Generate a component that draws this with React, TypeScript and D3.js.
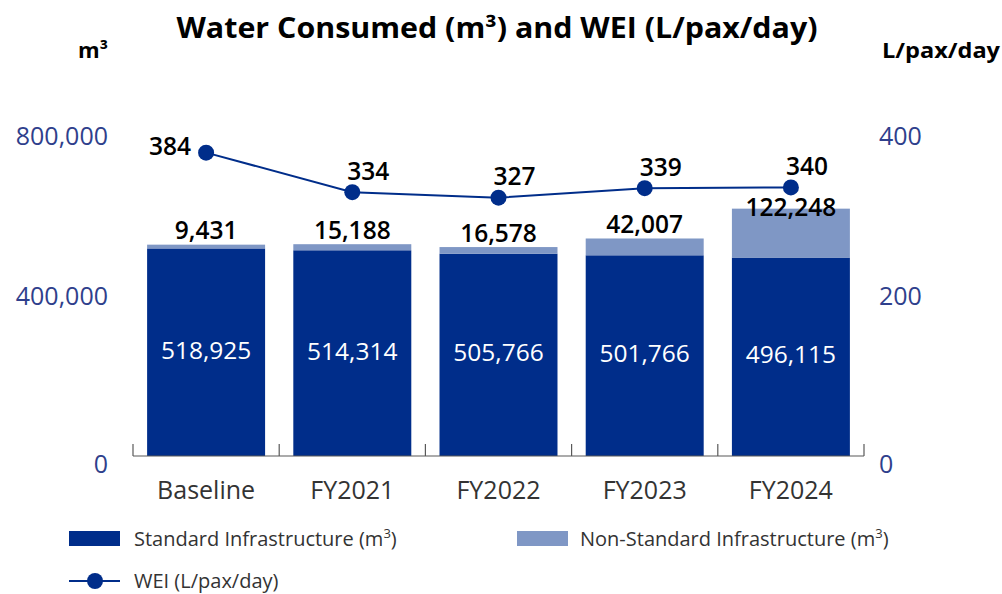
import React from "react";
import * as d3 from "d3";

const categories = ["Baseline", "FY2021", "FY2022", "FY2023", "FY2024"];
const standard = [518925, 514314, 505766, 501766, 496115];
const nonStandard = [9431, 15188, 16578, 42007, 122248];
const wei = [384, 334, 327, 339, 340];
const leftTicks = [0, 400000, 800000];
const rightTicks = [0, 200, 400];

const W = 1002;
const H = 594;
const DARK = "#002d8a";
const LIGHT = "#7f97c5";
const AXIS_TEXT = "#2f3f8c";
const FONT = "'Open Sans', 'Noto Sans', sans-serif";

export default function App() {
  const x = d3.scaleBand<string>().domain(categories).range([133, 864]).paddingInner(0).paddingOuter(0);
  const y = d3.scaleLinear().domain([0, 800000]).range([456, 136]);
  const y2 = d3.scaleLinear().domain([0, 400]).range([456, 140]);
  const bw = x.bandwidth() * 0.807;
  const fmt = d3.format(",");

  const linePath = d3
    .line<number>()
    .x((_, i) => x(categories[i])! + x.bandwidth() / 2)
    .y((d) => y2(d))(wei);

  const boundaries = categories.map((c) => x(c)!).concat([864]);

  return (
    <svg width={W} height={H} style={{ position: "absolute", left: 0, top: 0 }}>
      <rect width={W} height={H} fill="#fff" />
      <text
        x={497}
        y={38}
        textAnchor="middle"
        fontFamily={FONT}
        fontWeight={700}
        fontSize={28}
        textLength={641}
        lengthAdjust="spacingAndGlyphs"
        fill="#000"
      >
        Water Consumed (m³) and WEI (L/pax/day)
      </text>
      <text x={93} y={58} textAnchor="middle" fontFamily={FONT} fontWeight={700} fontSize={21} textLength={30} lengthAdjust="spacingAndGlyphs">
        m³
      </text>
      <text x={941} y={58} textAnchor="middle" fontFamily={FONT} fontWeight={700} fontSize={21} textLength={118} lengthAdjust="spacingAndGlyphs">
        L/pax/day
      </text>

      {leftTicks.map((t) => (
        <text key={"l" + t} x={108} y={y(t) + (t === 0 ? 8 : 0)} dy="0.35em" textAnchor="end" fontFamily={FONT} fontSize={25} fill={AXIS_TEXT}>
          {fmt(t)}
        </text>
      ))}
      {rightTicks.map((t) => (
        <text key={"r" + t} x={879} y={y(t * 2000) + (t === 0 ? 8 : 0)} dy="0.35em" textAnchor="start" fontFamily={FONT} fontSize={25} fill={AXIS_TEXT}>
          {t}
        </text>
      ))}

      {categories.map((c, i) => {
        const cx = x(c)! + x.bandwidth() / 2;
        const topStd = y(standard[i]);
        const topAll = y(standard[i] + nonStandard[i]);
        const markerY = y2(wei[i]);
        const nsLabelY = Math.max(topAll - 14, markerY + 20);
        return (
          <g key={c}>
            <rect x={cx - bw / 2} y={topStd} width={bw} height={y(0) - topStd} fill={DARK} />
            <rect x={cx - bw / 2} y={topAll} width={bw} height={topStd - topAll} fill={LIGHT} />
            <text x={cx} y={(topStd + y(0)) / 2 - 2} dy="0.35em" textAnchor="middle" fontFamily={FONT} fontSize={24.5} fill="#fff">
              {fmt(standard[i])}
            </text>
            <text x={cx} y={nsLabelY} dy="0.35em" textAnchor="middle" fontFamily={FONT} fontWeight={600} fontSize={24.5} fill="#000">
              {fmt(nonStandard[i])}
            </text>
            <text x={cx} y={490} dy="0.35em" textAnchor="middle" fontFamily={FONT} fontSize={25} fill="#333">
              {c}
            </text>
          </g>
        );
      })}

      <line x1={133} x2={864} y1={456} y2={456} stroke="#595959" strokeWidth={1.2} />
      {boundaries.map((b, i) => (
        <line key={"t" + i} x1={b} x2={b} y1={444} y2={456} stroke="#595959" strokeWidth={1.2} />
      ))}

      <path d={linePath || ""} fill="none" stroke={DARK} strokeWidth={2} />
      {wei.map((v, i) => {
        const cx = x(categories[i])! + x.bandwidth() / 2;
        const cy = y2(v);
        return (
          <g key={"w" + i}>
            <circle cx={cx} cy={cy} r={8} fill={DARK} />
            {i === 0 ? (
              <text x={cx - 15} y={cy - 6} dy="0.35em" textAnchor="end" fontFamily={FONT} fontWeight={600} fontSize={24.5} fill="#000">
                {v}
              </text>
            ) : (
              <text x={cx + 16} y={cy - 21} dy="0.35em" textAnchor="middle" fontFamily={FONT} fontWeight={600} fontSize={24.5} fill="#000">
                {v}
              </text>
            )}
          </g>
        );
      })}

      <rect x={69} y={531} width={51} height={15} fill={DARK} />
      <text x={134} y={539} dy="0.35em" fontFamily={FONT} fontSize={20} fill="#333">
        Standard Infrastructure (m<tspan fontSize={13} dy={-8}>3</tspan><tspan dy={8}>)</tspan>
      </text>
      <rect x={517} y={531} width={51} height={15} fill={LIGHT} />
      <text x={580} y={539} dy="0.35em" fontFamily={FONT} fontSize={20} fill="#333">
        Non-Standard Infrastructure (m<tspan fontSize={13} dy={-8}>3</tspan><tspan dy={8}>)</tspan>
      </text>
      <line x1={69} x2={120} y1={581} y2={581} stroke={DARK} strokeWidth={2} />
      <circle cx={95} cy={581} r={8} fill={DARK} />
      <text x={134} y={581} dy="0.35em" fontFamily={FONT} fontSize={20} fill="#333">
        WEI (L/pax/day)
      </text>
    </svg>
  );
}
